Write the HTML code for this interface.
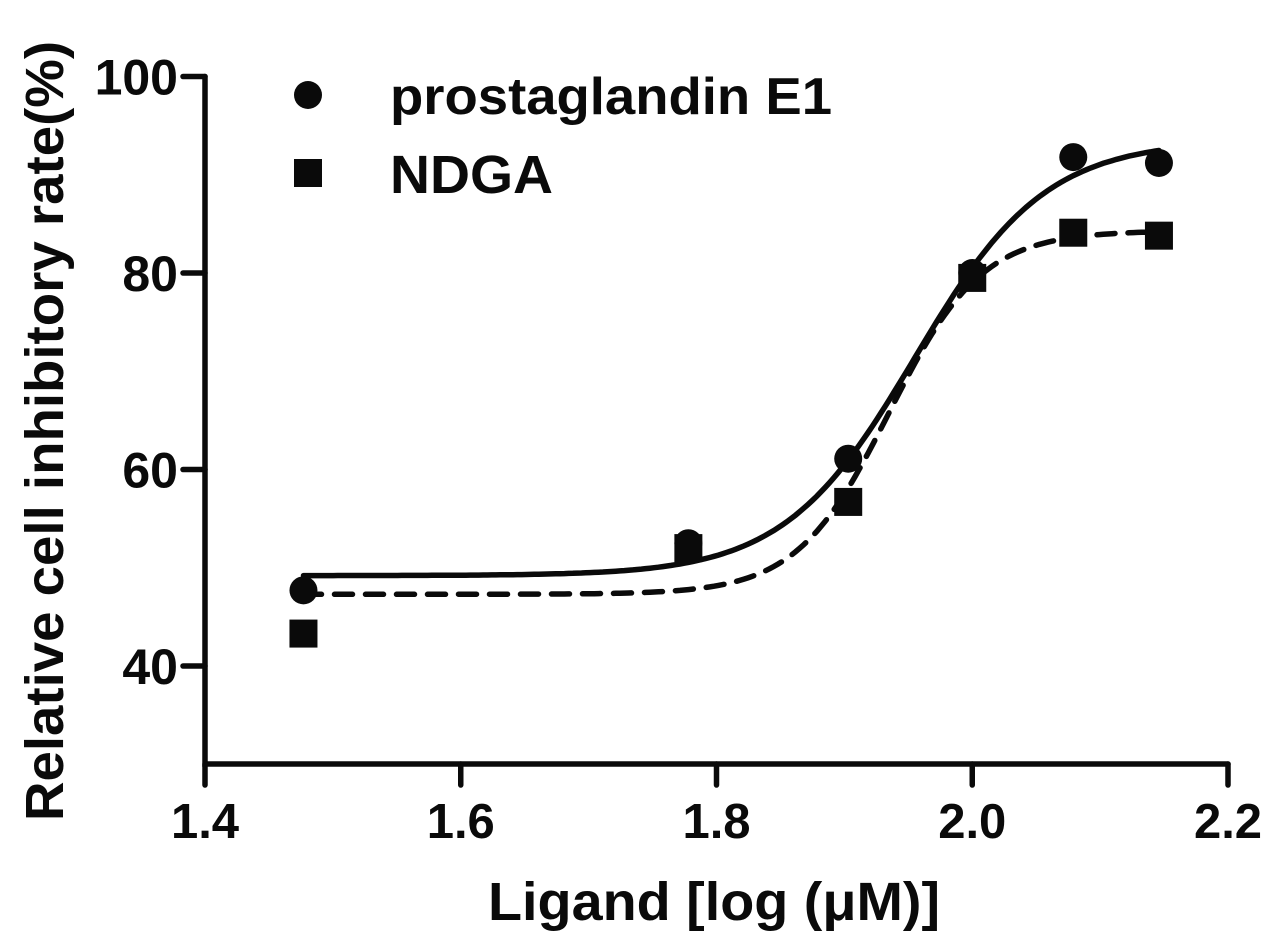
<!DOCTYPE html>
<html><head><meta charset="utf-8"><style>html,body{margin:0;padding:0;background:#fff}svg{display:block}text{font-family:"Liberation Sans",Arial,sans-serif;font-weight:bold;fill:#0a0a0a}</style></head>
<body>
<svg id="chart" width="1282" height="941" viewBox="0 0 1282 941" xmlns="http://www.w3.org/2000/svg">
<g id="axes"></g>
<g id="curves"></g>
<g id="marks"></g>
<text transform="translate(63,431) rotate(-90)" text-anchor="middle" font-size="54" textLength="780" lengthAdjust="spacingAndGlyphs">Relative cell inhibitory rate(%)</text>
<text x="488" y="920" font-size="54" textLength="452" lengthAdjust="spacingAndGlyphs">Ligand [log (μM)]</text>
<g>
<circle cx="308" cy="95" r="14" fill="#0a0a0a"/>
<text x="390" y="114" font-size="52" textLength="442" lengthAdjust="spacingAndGlyphs">prostaglandin E1</text>
<rect x="294" y="159" width="28" height="28" fill="#0a0a0a"/>
<text x="390" y="193" font-size="54" textLength="163" lengthAdjust="spacingAndGlyphs">NDGA</text>
</g>
</svg>
<script>
const xValues = [1.477, 1.778, 1.903, 2.0, 2.079, 2.146];
const pgeValues = [47.7, 52.5, 61.1, 80.0, 91.8, 91.2];
const ndgaValues = [43.3, 52.0, 56.7, 79.5, 84.1, 83.8];
const xTicks = [1.4, 1.6, 1.8, 2.0, 2.2];
const xTickLabels = ["1.4", "1.6", "1.8", "2.0", "2.2"];
const yTicks = [40, 60, 80, 100];
const yTickLabels = ["40", "60", "80", "100"];
// 4PL fit parameters [bottom, top, logEC50, hill]
const pgeFit = [49.2, 93.5, 1.955, 8.5];
const ndgaFit = [47.3, 84.3, 1.935, 12];

const NS = "http://www.w3.org/2000/svg";
const X0 = 205, X1 = 1228, Y0 = 764, Y1 = 75;
const xs = v => X0 + (v - 1.4) / 0.8 * (X1 - X0);
const ys = v => 666 - (v - 40) * (666 - 273) / 40;
function mk(tag, parent, attrs) { const e = document.createElementNS(NS, tag); for (const k in attrs) e.setAttribute(k, attrs[k]); parent.appendChild(e); return e; }
const axes = document.getElementById('axes'), curves = document.getElementById('curves'), marks = document.getElementById('marks');
const st = {stroke: '#0a0a0a', 'stroke-width': 5.5, 'stroke-linecap': 'round', fill: 'none'};
let e = mk('path', axes, Object.assign({d: `M${X0},${ys(100)} L${X0},${Y0} L${X1},${Y0}`}, st));


xTicks.forEach((t, i) => {
  const l = mk('line', axes, Object.assign({x1: xs(t), x2: xs(t), y1: Y0, y2: Y0 + 21}, st));
  
  
  const tx = mk('text', axes, {x: xs(t), y: 838, 'text-anchor': 'middle', 'font-size': 49});
  tx.textContent = xTickLabels[i];
  
  
});
yTicks.forEach((t, i) => {
  const l = mk('line', axes, Object.assign({x1: X0 - 22, x2: X0, y1: ys(t), y2: ys(t)}, st));
  
  
  const tx = mk('text', axes, {x: 178, y: ys(t) + 18, 'text-anchor': 'end', 'font-size': 50});
  tx.textContent = yTickLabels[i];
  
  
});
function fitPath(p) {
  let d = '';
  const a = xValues[0], b = xValues[xValues.length - 1];
  for (let i = 0; i <= 200; i++) {
    const x = a + (b - a) * i / 200;
    const y = p[0] + (p[1] - p[0]) / (1 + Math.pow(10, (p[2] - x) * p[3]));
    d += (i ? 'L' : 'M') + xs(x).toFixed(1) + ',' + ys(y).toFixed(1);
  }
  return d;
}
e = mk('path', curves, Object.assign({d: fitPath(pgeFit)}, st));


e = mk('path', curves, Object.assign({d: fitPath(ndgaFit), 'stroke-dasharray': '18 13', 'stroke-linecap': 'butt'}, st));


xValues.forEach((x, i) => {
  const c = mk('circle', marks, {cx: xs(x), cy: ys(pgeValues[i]), r: 14, fill: '#0a0a0a'});
  
  
  const r = mk('rect', marks, {x: xs(x) - 14, y: ys(ndgaValues[i]) - 14, width: 28, height: 28, fill: '#0a0a0a'});
  
  
});
</script>
</body></html>
